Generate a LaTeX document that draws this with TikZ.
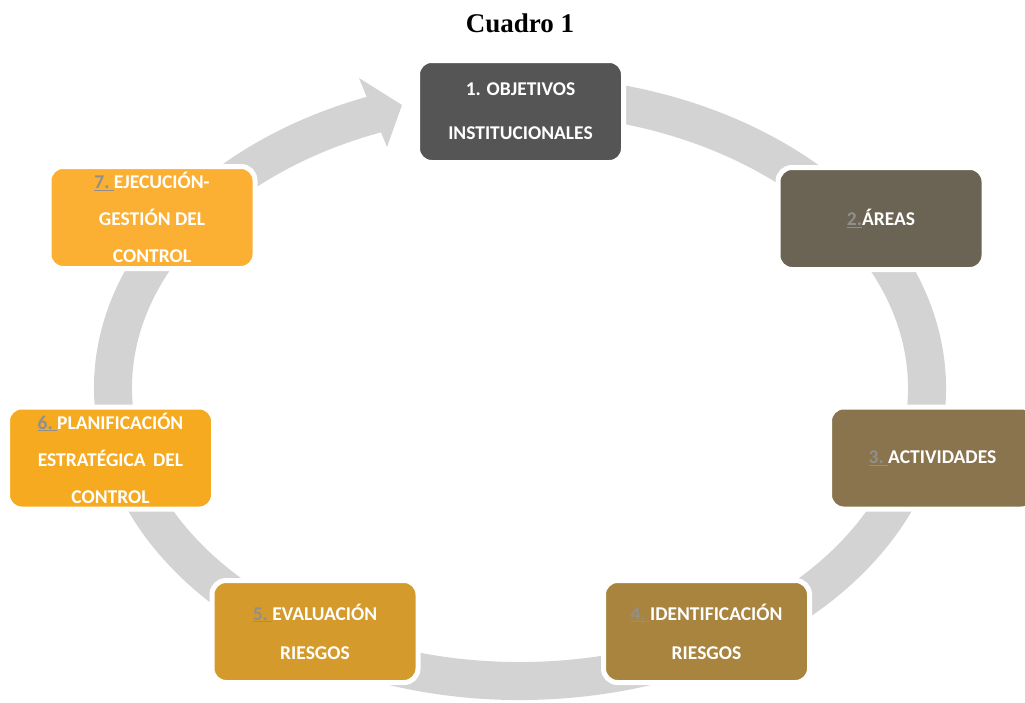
\documentclass[tikz,border=0pt]{standalone}
\usepackage{fontspec}
\setsansfont{Carlito}
\newfontfamily\titlefont{Liberation Serif}
\usetikzlibrary{calc}
\definecolor{ringgray}{HTML}{D3D3D3}
\definecolor{numgray}{HTML}{8F8F8F}
\definecolor{boxone}{HTML}{555555}
\definecolor{boxtwo}{HTML}{6B6454}
\definecolor{boxthree}{HTML}{8A744D}
\definecolor{boxfour}{HTML}{A8843F}
\definecolor{boxfive}{HTML}{D49B2C}
\definecolor{boxsix}{HTML}{F5AA1F}
\definecolor{boxseven}{HTML}{FBB034}
\newcommand{\stepnum}[1]{{\color{numgray}\underline{#1}}}
\begin{document}
\begin{tikzpicture}[x=1pt, y=-1pt,
		cyclebox/.style={draw=white, line width=5pt, rounded corners=14pt,
			minimum width=206pt, minimum height=102pt, inner sep=0pt,
			align=center, text=white,
			font=\sffamily\bfseries\fontsize{19.5}{37}\selectfont}]
			\useasboundingbox (0,0) rectangle (1025,702);
			\coordinate (ringc) at (520,388);

			% gray cycle ring with its arrow head
			\draw [ringgray, line width=38pt] (ringc) ++(-98:407 and 293)
				arc [start angle=-98, end angle=249.5, x radius=407, y radius=293];
			\fill [ringgray] (359,78) -- (402,105) -- (387,147) -- cycle;

			\node [font=\titlefont\bfseries\fontsize{27}{30}\selectfont] (title) at (520,23) {Cuadro 1};

			\node [cyclebox, fill=boxone] (obj) at (520.5,111.5) {1. OBJETIVOS\\[7pt] INSTITUCIONALES};
			\node [cyclebox, fill=boxtwo] (areas) at (881,218.5) {\stepnum{2.}ÁREAS};
			\node [cyclebox, fill=boxthree] (act) at (932.5,458) {\stepnum{3.\ }ACTIVIDADES};
			\node [cyclebox, fill=boxfour] (ident) at (706.5,631.5) {\stepnum{4.\ }IDENTIFICACIÓN\\[2pt] RIESGOS};
			\node [cyclebox, fill=boxfive] (eval) at (315,631.5) {\stepnum{5.\ }EVALUACIÓN\\[2pt] RIESGOS};
			\node [cyclebox, fill=boxsix] (plan) at (110.5,458) {\stepnum{6.\ }PLANIFICACIÓN\\ ESTRATÉGICA\hspace{0.15em} DEL\\ CONTROL};
			\node [cyclebox, fill=boxseven] (ejec) at (152,217.5) {\stepnum{7.\ }EJECUCIÓN-\\ GESTIÓN DEL\\ CONTROL};
		\end{tikzpicture}
\end{document}
